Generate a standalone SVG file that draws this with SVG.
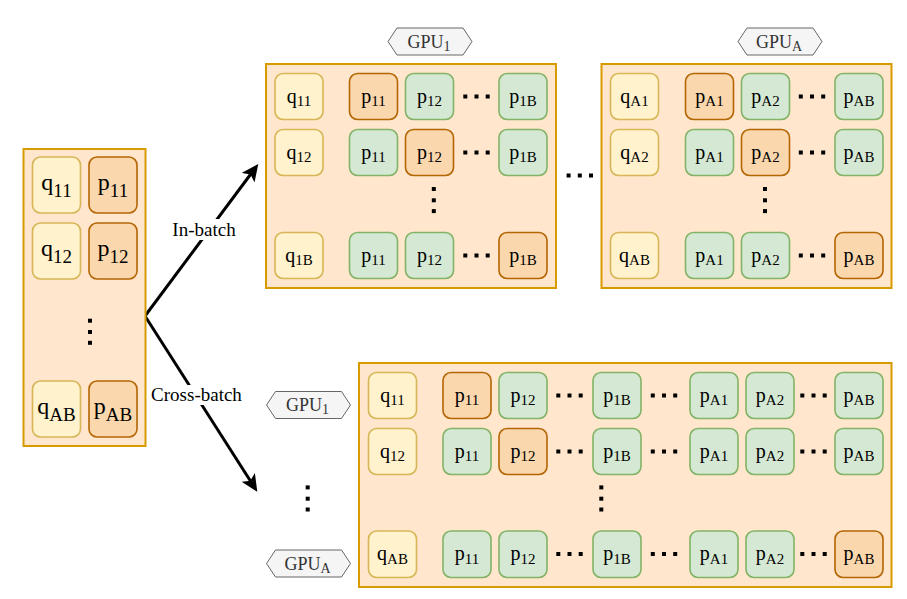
<svg xmlns="http://www.w3.org/2000/svg" xmlns:xlink="http://www.w3.org/1999/xlink" width="907" height="599" viewBox="0 0 907 599">
<style>
.c{fill:#ffe6cc;stroke:#d79b00;stroke-width:2}
.q{fill:#fff2cc;stroke:#d6b656;stroke-width:1.6}
.po{fill:#fad7ac;stroke:#b46504;stroke-width:1.6}
.pg{fill:#d5e8d4;stroke:#82b366;stroke-width:1.6}
.hex{fill:#f5f5f5;stroke:#666666;stroke-width:1}
text{font-family:"Liberation Serif","Times New Roman",serif;fill:#000}
.t{font-size:20px;text-anchor:middle}
.s{font-size:15px}
.T{font-size:24px;text-anchor:middle}
.S{font-size:19px}
.g{font-size:18px;text-anchor:middle;fill:#333}
.gs{font-size:14px}
.lbl{font-size:19px;text-anchor:middle}
.dot{fill:#000}
.arr{stroke:#000;stroke-width:3;fill:none}
</style>
<defs>
<g id="hd"><rect class="dot" x="-13.2" y="-2" width="4" height="4"/><rect class="dot" x="-2" y="-2" width="4" height="4"/><rect class="dot" x="9.2" y="-2" width="4" height="4"/></g>
<g id="vd"><rect class="dot" x="-2" y="-13.3" width="4" height="4"/><rect class="dot" x="-2" y="-2" width="4" height="4"/><rect class="dot" x="-2" y="8.8" width="4" height="4"/></g>
<marker id="ah" markerUnits="userSpaceOnUse" markerWidth="20" markerHeight="16" viewBox="0 0 20 16" refX="7" refY="8" orient="auto">
<path d="M0,0 L17,8 L0,16 L4,8 Z" fill="#000"/>
</marker>
</defs>

<!-- Connectors -->
<g id="connectors">
<line class="arr" x1="145" y1="316" x2="252.3" y2="172" marker-end="url(#ah)"/>
<line class="arr" x1="145" y1="316" x2="251.9" y2="483.3" marker-end="url(#ah)"/>
<rect x="170" y="219" width="69" height="21" fill="#fff"/>
<text class="lbl" x="204" y="236">In-batch</text>
<rect x="148" y="385" width="97" height="20" fill="#fff"/>
<text class="lbl" x="196.5" y="401">Cross-batch</text>
</g>

<!-- Left batch -->
<g id="batch">
<rect class="c" x="23.5" y="149" width="122" height="297"/>
<g id="L-q11"><rect class="q" x="32.5" y="157" width="48" height="56" rx="8"/><text class="T" x="56.5" y="190">q<tspan class="S" dy="7">11</tspan></text></g>
<g id="L-p11"><rect class="po" x="89" y="157" width="48" height="56" rx="8"/><text class="T" x="113" y="190">p<tspan class="S" dy="7">11</tspan></text></g>
<g id="L-q12"><rect class="q" x="32.5" y="223" width="48" height="56" rx="8"/><text class="T" x="56.5" y="256">q<tspan class="S" dy="7">12</tspan></text></g>
<g id="L-p12"><rect class="po" x="89" y="223" width="48" height="56" rx="8"/><text class="T" x="113" y="256">p<tspan class="S" dy="7">12</tspan></text></g>
<use href="#vd" x="90" y="332"/>
<g id="L-qAB"><rect class="q" x="32.5" y="381" width="48" height="56" rx="8"/><text class="T" x="56.5" y="414">q<tspan class="S" dy="7">AB</tspan></text></g>
<g id="L-pAB"><rect class="po" x="89" y="381" width="48" height="56" rx="8"/><text class="T" x="113" y="414">p<tspan class="S" dy="7">AB</tspan></text></g>
</g>

<!-- In-batch GPU1 -->
<g id="gpu1-label"><polygon class="hex" points="388,41.5 397,28 463,28 472,41.5 463,55 397,55"/><text class="g" x="429" y="47.5">GPU<tspan class="gs" dy="3">1</tspan></text></g>
<g id="in-gpu1">
<rect class="c" x="266" y="64" width="290" height="224"/>
<g><rect class="q" x="275" y="73.5" width="48" height="46" rx="8"/><text class="t" x="299" y="102.5">q<tspan class="s" dy="3.5">11</tspan></text></g>
<g><rect class="po" x="349.5" y="73.5" width="48" height="46" rx="8"/><text class="t" x="373.5" y="102.5">p<tspan class="s" dy="3.5">11</tspan></text></g>
<g><rect class="pg" x="405.5" y="73.5" width="48" height="46" rx="8"/><text class="t" x="429.5" y="102.5">p<tspan class="s" dy="3.5">12</tspan></text></g>
<use href="#hd" x="476.5" y="96.5"/>
<g><rect class="pg" x="499" y="73.5" width="48" height="46" rx="8"/><text class="t" x="523" y="102.5">p<tspan class="s" dy="3.5">1B</tspan></text></g>

<g><rect class="q" x="275" y="129.5" width="48" height="46" rx="8"/><text class="t" x="299" y="158.5">q<tspan class="s" dy="3.5">12</tspan></text></g>
<g><rect class="pg" x="349.5" y="129.5" width="48" height="46" rx="8"/><text class="t" x="373.5" y="158.5">p<tspan class="s" dy="3.5">11</tspan></text></g>
<g><rect class="po" x="405.5" y="129.5" width="48" height="46" rx="8"/><text class="t" x="429.5" y="158.5">p<tspan class="s" dy="3.5">12</tspan></text></g>
<use href="#hd" x="476.5" y="152.5"/>
<g><rect class="pg" x="499" y="129.5" width="48" height="46" rx="8"/><text class="t" x="523" y="158.5">p<tspan class="s" dy="3.5">1B</tspan></text></g>

<use href="#vd" x="433.8" y="200.3"/>

<g><rect class="q" x="275" y="232.5" width="48" height="46" rx="8"/><text class="t" x="299" y="261.5">q<tspan class="s" dy="3.5">1B</tspan></text></g>
<g><rect class="pg" x="349.5" y="232.5" width="48" height="46" rx="8"/><text class="t" x="373.5" y="261.5">p<tspan class="s" dy="3.5">11</tspan></text></g>
<g><rect class="pg" x="405.5" y="232.5" width="48" height="46" rx="8"/><text class="t" x="429.5" y="261.5">p<tspan class="s" dy="3.5">12</tspan></text></g>
<use href="#hd" x="476.5" y="255.5"/>
<g><rect class="po" x="499" y="232.5" width="48" height="46" rx="8"/><text class="t" x="523" y="261.5">p<tspan class="s" dy="3.5">1B</tspan></text></g>
</g>

<use href="#hd" x="579.8" y="175.5"/>

<!-- In-batch GPUA -->
<g id="gpuA-label"><polygon class="hex" points="738,41.5 747,28 813,28 822,41.5 813,55 747,55"/><text class="g" x="779" y="47.5">GPU<tspan class="gs" dy="3">A</tspan></text></g>
<g id="in-gpuA">
<rect class="c" x="601.5" y="64" width="290" height="224"/>
<g><rect class="q" x="610.5" y="73.5" width="48" height="46" rx="8"/><text class="t" x="634.5" y="102.5">q<tspan class="s" dy="3.5">A1</tspan></text></g>
<g><rect class="po" x="685.5" y="73.5" width="48" height="46" rx="8"/><text class="t" x="709.5" y="102.5">p<tspan class="s" dy="3.5">A1</tspan></text></g>
<g><rect class="pg" x="741.5" y="73.5" width="48" height="46" rx="8"/><text class="t" x="765.5" y="102.5">p<tspan class="s" dy="3.5">A2</tspan></text></g>
<use href="#hd" x="812" y="96.5"/>
<g><rect class="pg" x="835" y="73.5" width="48" height="46" rx="8"/><text class="t" x="859" y="102.5">p<tspan class="s" dy="3.5">AB</tspan></text></g>

<g><rect class="q" x="610.5" y="129.5" width="48" height="46" rx="8"/><text class="t" x="634.5" y="158.5">q<tspan class="s" dy="3.5">A2</tspan></text></g>
<g><rect class="pg" x="685.5" y="129.5" width="48" height="46" rx="8"/><text class="t" x="709.5" y="158.5">p<tspan class="s" dy="3.5">A1</tspan></text></g>
<g><rect class="po" x="741.5" y="129.5" width="48" height="46" rx="8"/><text class="t" x="765.5" y="158.5">p<tspan class="s" dy="3.5">A2</tspan></text></g>
<use href="#hd" x="812" y="152.5"/>
<g><rect class="pg" x="835" y="129.5" width="48" height="46" rx="8"/><text class="t" x="859" y="158.5">p<tspan class="s" dy="3.5">AB</tspan></text></g>

<use href="#vd" x="765" y="200.3"/>

<g><rect class="q" x="610.5" y="232.5" width="48" height="46" rx="8"/><text class="t" x="634.5" y="261.5">q<tspan class="s" dy="3.5">AB</tspan></text></g>
<g><rect class="pg" x="685.5" y="232.5" width="48" height="46" rx="8"/><text class="t" x="709.5" y="261.5">p<tspan class="s" dy="3.5">A1</tspan></text></g>
<g><rect class="pg" x="741.5" y="232.5" width="48" height="46" rx="8"/><text class="t" x="765.5" y="261.5">p<tspan class="s" dy="3.5">A2</tspan></text></g>
<use href="#hd" x="812" y="255.5"/>
<g><rect class="po" x="835" y="232.5" width="48" height="46" rx="8"/><text class="t" x="859" y="261.5">p<tspan class="s" dy="3.5">AB</tspan></text></g>
</g>

<!-- Cross-batch labels -->
<g id="cb-gpu1-label"><polygon class="hex" points="266.5,405 275.5,391.5 341.5,391.5 350.5,405 341.5,418.5 275.5,418.5"/><text class="g" x="307.5" y="411">GPU<tspan class="gs" dy="3">1</tspan></text></g>
<use href="#vd" x="307.7" y="498.7"/>
<g id="cb-gpuA-label"><polygon class="hex" points="266.5,563.5 275.5,550 341.5,550 350.5,563.5 341.5,577 275.5,577"/><text class="g" x="307.5" y="569.5">GPU<tspan class="gs" dy="3">A</tspan></text></g>

<!-- Cross-batch matrix -->
<g id="cross">
<rect class="c" x="359" y="363" width="532.5" height="224"/>
<g><rect class="q" x="368.5" y="372.5" width="48" height="46" rx="8"/><text class="t" x="392.5" y="401.5">q<tspan class="s" dy="3.5">11</tspan></text></g>
<g><rect class="po" x="443" y="372.5" width="48" height="46" rx="8"/><text class="t" x="467" y="401.5">p<tspan class="s" dy="3.5">11</tspan></text></g>
<g><rect class="pg" x="499" y="372.5" width="48" height="46" rx="8"/><text class="t" x="523" y="401.5">p<tspan class="s" dy="3.5">12</tspan></text></g>
<use href="#hd" x="569.5" y="395.5"/>
<g><rect class="pg" x="593" y="372.5" width="48" height="46" rx="8"/><text class="t" x="617" y="401.5">p<tspan class="s" dy="3.5">1B</tspan></text></g>
<use href="#hd" x="664" y="395.5"/>
<g><rect class="pg" x="690" y="372.5" width="48" height="46" rx="8"/><text class="t" x="714" y="401.5">p<tspan class="s" dy="3.5">A1</tspan></text></g>
<g><rect class="pg" x="746" y="372.5" width="48" height="46" rx="8"/><text class="t" x="770" y="401.5">p<tspan class="s" dy="3.5">A2</tspan></text></g>
<use href="#hd" x="813.5" y="395.5"/>
<g><rect class="pg" x="835" y="372.5" width="48" height="46" rx="8"/><text class="t" x="859" y="401.5">p<tspan class="s" dy="3.5">AB</tspan></text></g>

<g><rect class="q" x="368.5" y="428.5" width="48" height="46" rx="8"/><text class="t" x="392.5" y="457.5">q<tspan class="s" dy="3.5">12</tspan></text></g>
<g><rect class="pg" x="443" y="428.5" width="48" height="46" rx="8"/><text class="t" x="467" y="457.5">p<tspan class="s" dy="3.5">11</tspan></text></g>
<g><rect class="po" x="499" y="428.5" width="48" height="46" rx="8"/><text class="t" x="523" y="457.5">p<tspan class="s" dy="3.5">12</tspan></text></g>
<use href="#hd" x="569.5" y="451.5"/>
<g><rect class="pg" x="593" y="428.5" width="48" height="46" rx="8"/><text class="t" x="617" y="457.5">p<tspan class="s" dy="3.5">1B</tspan></text></g>
<use href="#hd" x="664" y="451.5"/>
<g><rect class="pg" x="690" y="428.5" width="48" height="46" rx="8"/><text class="t" x="714" y="457.5">p<tspan class="s" dy="3.5">A1</tspan></text></g>
<g><rect class="pg" x="746" y="428.5" width="48" height="46" rx="8"/><text class="t" x="770" y="457.5">p<tspan class="s" dy="3.5">A2</tspan></text></g>
<use href="#hd" x="813.5" y="451.5"/>
<g><rect class="pg" x="835" y="428.5" width="48" height="46" rx="8"/><text class="t" x="859" y="457.5">p<tspan class="s" dy="3.5">AB</tspan></text></g>

<use href="#vd" x="601.3" y="498.7"/>

<g><rect class="q" x="368.5" y="531" width="48" height="46.5" rx="8"/><text class="t" x="392.5" y="560">q<tspan class="s" dy="3.5">AB</tspan></text></g>
<g><rect class="pg" x="443" y="531" width="48" height="46.5" rx="8"/><text class="t" x="467" y="560">p<tspan class="s" dy="3.5">11</tspan></text></g>
<g><rect class="pg" x="499" y="531" width="48" height="46.5" rx="8"/><text class="t" x="523" y="560">p<tspan class="s" dy="3.5">12</tspan></text></g>
<use href="#hd" x="569.5" y="554"/>
<g><rect class="pg" x="593" y="531" width="48" height="46.5" rx="8"/><text class="t" x="617" y="560">p<tspan class="s" dy="3.5">1B</tspan></text></g>
<use href="#hd" x="664" y="554"/>
<g><rect class="pg" x="690" y="531" width="48" height="46.5" rx="8"/><text class="t" x="714" y="560">p<tspan class="s" dy="3.5">A1</tspan></text></g>
<g><rect class="pg" x="746" y="531" width="48" height="46.5" rx="8"/><text class="t" x="770" y="560">p<tspan class="s" dy="3.5">A2</tspan></text></g>
<use href="#hd" x="813.5" y="554"/>
<g><rect class="po" x="835" y="531" width="48" height="46.5" rx="8"/><text class="t" x="859" y="560">p<tspan class="s" dy="3.5">AB</tspan></text></g>
</g>
</svg>
